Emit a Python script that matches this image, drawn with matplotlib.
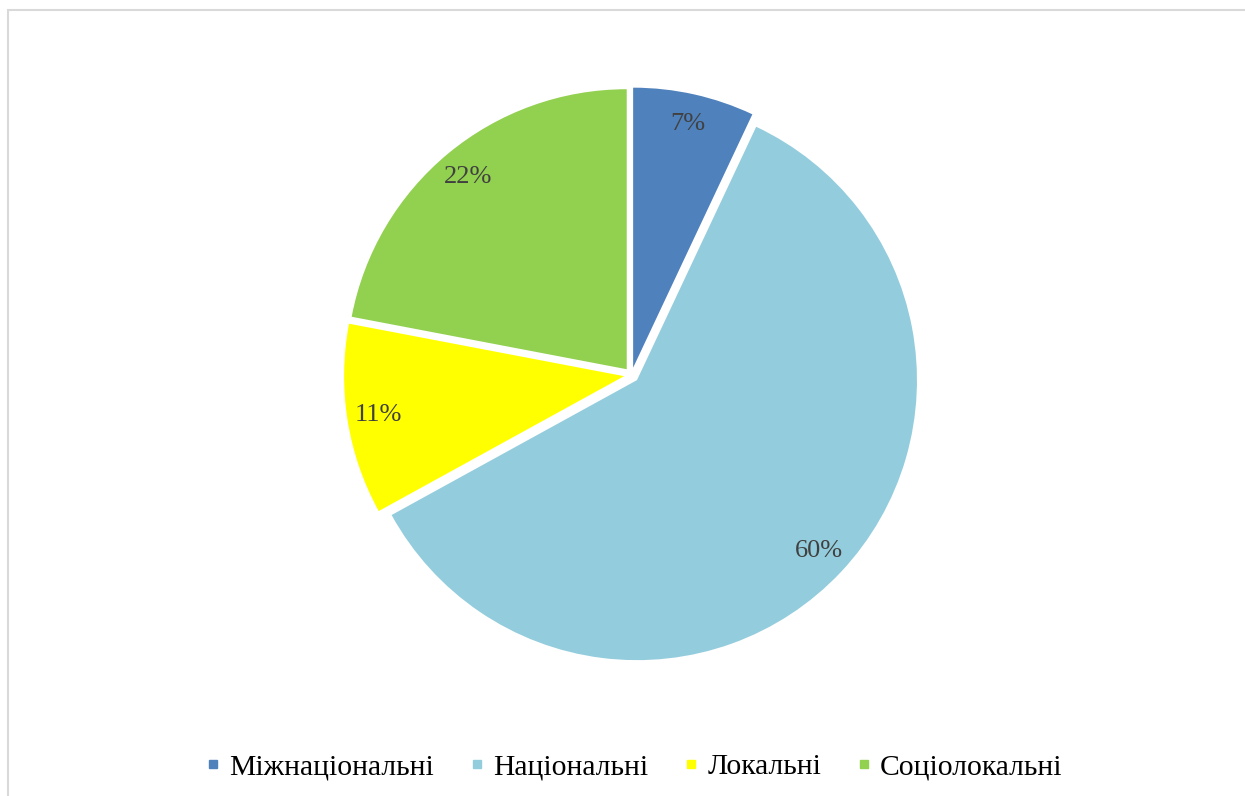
import matplotlib
matplotlib.use("Agg")
import matplotlib.pyplot as plt
from matplotlib.lines import Line2D
from matplotlib.patches import Rectangle

categories = ["Міжнаціональні", "Національні", "Локальні", "Соціолокальні"]
values = [7, 60, 11, 22]
colors = ["#4F81BD", "#93CDDD", "#FFFF00", "#92D050"]

W, H = 1245, 796
fig = plt.figure(figsize=(W / 100, H / 100), dpi=100)
fig.patch.set_facecolor("white")

# outer frame (partially cropped)
fig.add_artist(Rectangle((8 / W, -0.05), 1.2, (H - 10) / H + 0.05,
                         transform=fig.transFigure, fill=False,
                         edgecolor="#D9D9D9", linewidth=1.5))

ax = fig.add_axes([0, 0, 1, 1])
ax.set_xlim(0, W)
ax.set_ylim(0, H)
ax.set_aspect("equal")
ax.axis("off")

cx, cy, r = 631.5, H - 375, 280
wedges, texts, autotexts = ax.pie(
    values, colors=colors, startangle=90, counterclock=False,
    center=(cx, cy), radius=r, explode=[7.5] * 4,
    autopct=lambda p: f"{p:.0f}%", pctdistance=0.89,
    wedgeprops=dict(linewidth=0), frame=True,
    textprops=dict(family="Liberation Serif", fontsize=19, color="#404040"))
ax.set_xlim(0, W)
ax.set_ylim(0, H)
ax.axis("off")

handles = [Line2D([0], [0], marker="s", linestyle="none", markersize=6,
                  markerfacecolor=c, markeredgecolor=c) for c in colors]
fig.legend(handles, categories, loc="center", bbox_to_anchor=(634 / W, 1 - 767 / H),
           ncol=4, frameon=False, handlelength=0.5, handletextpad=0.3,
           columnspacing=1.2,
           prop=dict(family="Liberation Serif", size=21.3))

fig.savefig("out.png", dpi=100, facecolor="white")
